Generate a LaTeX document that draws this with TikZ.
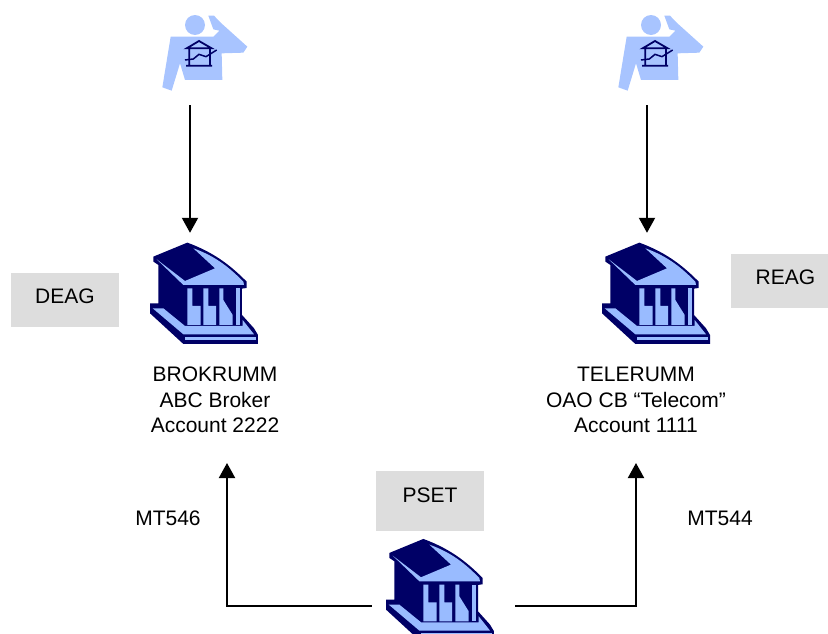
\documentclass[tikz,border=0pt]{standalone}
\usepackage{fontspec}
\setmainfont{Liberation Sans}
\usepackage{xcolor}
\usepackage{tikz}
\usetikzlibrary{arrows.meta}
\definecolor{banknavy}{HTML}{000066}
\definecolor{banklight}{HTML}{99BBFF}
\definecolor{manblue}{HTML}{A8C4FF}
\definecolor{tagfill}{HTML}{DDDDDD}
\tikzset{
  flow/.style={draw=black, line width=2pt, -{Triangle[length=15pt,width=16pt]}},
  tagbox/.style={fill=tagfill, minimum width=108pt, minimum height=54pt, inner sep=0pt, text height=15pt, text depth=8pt, font=\fontsize{21}{25.5}\selectfont},
  caption/.style={align=center, font=\fontsize{21}{25.5}\selectfont},
  anchorbox/.style={inner sep=0pt, minimum width=1pt},
  man/.pic={
    \begin{scope}[x=0.3333pt, y=-0.3333pt, shift={(-225,-165)}]
      \fill[manblue] (195,75) circle (30);
      \fill[manblue] (235,47) -- (252,47) -- (272,68) -- (352,140) -- (340,158) -- (275,160) -- (277,240) -- (165,240) -- (150,190) -- (125,272) -- (97,262) -- (122,110) -- (250,110) -- (268,92) -- (250,88) -- cycle;
      \draw[banknavy, line width=1.8pt] (170,145) -- (207,123) -- (245,145) -- cycle (168,197) -- (246,197) (178,147) -- (178,197) (240,147) -- (240,197);
      \draw[banknavy, line width=1.5pt] (165,180) -- (190,177) -- (207,163) -- (228,170) -- (260,150);
    \end{scope}
  },
  bank/.pic={
    \begin{scope}[x=0.3333pt, y=-0.3333pt, shift={(-222,-277)}]
      % dark outline
      \fill[banknavy] (172,128) .. controls (260,160) and (310,205) .. (350,245) -- (350,264) -- (336,266) -- (336,345) -- (372,385) -- (384,405) -- (384,432) -- (160,432) -- (60,340) -- (60,310) -- (85,310) -- (85,195) -- (70,185) -- (70,170) -- cycle;
      % roof
      \fill[banklight] (80,178) -- (165,243) -- (255,205) -- (190,145) .. controls (260,170) and (300,205) .. (340,245) -- (342,255) -- (160,255) -- cycle;
      % columns
      \fill[banklight] (172,265) -- (187,265) -- (187,318) -- (212,318) -- (212,375) -- (172,375) -- cycle;
      \fill[banklight] (220,265) -- (235,265) -- (235,318) -- (258,318) -- (258,375) -- (220,375) -- cycle;
      \fill[banklight] (268,265) -- (280,265) -- (280,300) -- (308,345) -- (308,375) -- (268,375) -- cycle;
      \fill[banklight] (318,265) -- (330,265) -- (330,375) -- (318,375) -- cycle;
      % base
      \fill[banklight] (68,325) -- (160,403) -- (372,403) -- (338,360) -- (338,378) -- (165,378) -- (100,325) -- cycle;
      \fill[banklight] (165,410) -- (378,410) -- (378,420) -- (165,420) -- cycle;
    \end{scope}
  }
}
\begin{document}
\begin{tikzpicture}[x=1pt, y=-1pt]
  \clip (0,0) rectangle (828,634);
  % people
  \node[anchorbox, minimum height=100pt] (brokerman) at (190,55) {};
  \node[anchorbox, minimum height=100pt] (telecomman) at (647,55) {};
  \pic at (205,55) {man};
  \pic at (661,55) {man};
  % banks
  \node[anchorbox, minimum height=118pt] (brokerbank) at (190,292) {};
  \node[anchorbox, minimum height=118pt] (telecombank) at (647,292) {};
  \node[anchorbox, minimum width=143pt, minimum height=2pt] (psetbank) at (443.5,606) {};
  \pic at (204,292.3) {bank};
  \pic at (656,292.3) {bank};
  \pic at (440,588.6) {bank};
  % tags
  \node[tagbox] (deag) at (65,300) {DEAG};
  \node[tagbox, minimum width=98pt] (reag) at (779.5,281) {\hspace*{12pt}REAG};
  \node[tagbox, minimum height=60pt, text depth=12pt] (pset) at (430,501) {PSET};
  % captions
  \node[caption] (brokertext) at (215,400) {BROKRUMM\\ABC Broker\\Account 2222};
  \node[caption] (telecomtext) at (636,400) {TELERUMM\\OAO CB “Telecom”\\Account 1111};
  \node[caption] (mtleft) at (168,518) {MT546};
  \node[caption] (mtright) at (720,518) {MT544};
  \coordinate (brokerentry) at (227,463);
  \coordinate (telecomentry) at (636,463);
  % arrows
  \draw[flow] (brokerman.south) -- (brokerbank.north);
  \draw[flow] (telecomman.south) -- (telecombank.north);
  \draw[flow] (psetbank.west) -| (brokerentry);
  \draw[flow] (psetbank.east) -| (telecomentry);
\end{tikzpicture}
\end{document}
